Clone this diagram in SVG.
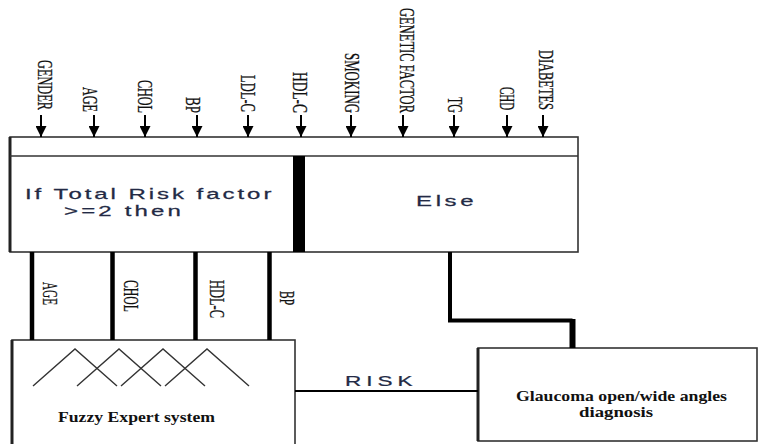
<svg xmlns="http://www.w3.org/2000/svg" width="758" height="444" viewBox="0 0 758 444">
<style>
.lbl{font-family:"Liberation Serif","Times New Roman",serif;font-size:22px;fill:#111;stroke:#111;stroke-width:0.3;}
.sans{font-family:"Liberation Sans",Arial,sans-serif;font-size:15px;fill:#232a45;stroke:#232a45;stroke-width:0.25;}
.bold{font-family:"Liberation Serif","Times New Roman",serif;font-size:15px;font-weight:bold;fill:#111;}
.box{fill:#fff;stroke:#333;stroke-width:1.6;}
.in{stroke:#000;stroke-width:2;fill:none;}
.thick{stroke:#000;fill:none;}
.mf{fill:none;stroke:#333;stroke-width:1.4;}
</style>
<defs>
<marker id="ah" markerWidth="12" markerHeight="11" refX="11" refY="5.5" orient="auto" markerUnits="userSpaceOnUse">
<path d="M0,0 L11,5.5 L0,11 Z" fill="#000"/>
</marker>
</defs>
<rect width="758" height="444" fill="#fff"/>

<g id="inputs">
<text class="lbl" transform="translate(37.5,60) rotate(90)" textLength="50" lengthAdjust="spacingAndGlyphs">GENDER</text>
<text class="lbl" transform="translate(82.5,87) rotate(90)" textLength="25" lengthAdjust="spacingAndGlyphs">AGE</text>
<text class="lbl" transform="translate(137.5,80) rotate(90)" textLength="33" lengthAdjust="spacingAndGlyphs">CHOL</text>
<text class="lbl" transform="translate(185.5,97) rotate(90)" textLength="16" lengthAdjust="spacingAndGlyphs">BP</text>
<text class="lbl" transform="translate(240.5,75) rotate(90)" textLength="37" lengthAdjust="spacingAndGlyphs">LDL-C</text>
<text class="lbl" transform="translate(292.5,72) rotate(90)" textLength="41" lengthAdjust="spacingAndGlyphs">HDL-C</text>
<text class="lbl" transform="translate(344.5,53) rotate(90)" textLength="60" lengthAdjust="spacingAndGlyphs">SMOKING</text>
<text class="lbl" transform="translate(399.5,8) rotate(90)" textLength="105" lengthAdjust="spacingAndGlyphs">GENETIC FACTOR</text>
<text class="lbl" transform="translate(447.5,97) rotate(90)" textLength="16" lengthAdjust="spacingAndGlyphs">TG</text>
<text class="lbl" transform="translate(499.5,87) rotate(90)" textLength="23" lengthAdjust="spacingAndGlyphs">CHD</text>
<text class="lbl" transform="translate(538.5,50) rotate(90)" textLength="60" lengthAdjust="spacingAndGlyphs">DIABETES</text>
</g>

<g id="rules">
<rect class="box" x="10" y="137" width="568" height="115"/>
<line x1="10" y1="137" x2="10" y2="252" stroke="#222" stroke-width="3"/>
<line x1="10" y1="156" x2="578" y2="156" stroke="#333" stroke-width="1.6"/>
<rect x="293" y="156" width="12" height="96" fill="#000"/>
<text class="sans" transform="translate(25,199) scale(1.6,1)" textLength="154" lengthAdjust="spacing">If Total Risk factor</text>
<text class="sans" transform="translate(64,216) scale(1.6,1)" textLength="73" lengthAdjust="spacing">&gt;=2 then</text>
<text class="sans" transform="translate(416,206) scale(1.6,1)" textLength="36" lengthAdjust="spacing">Else</text>
</g>

<g id="fuzzy">
<rect class="box" x="12" y="340" width="283" height="106"/>
<line x1="12" y1="340" x2="12" y2="444" stroke="#222" stroke-width="3"/>
<polyline class="mf" points="33,386 75,349 117,386"/>
<polyline class="mf" points="77,386 119,349 161,386"/>
<polyline class="mf" points="121,386 163,349 205,386"/>
<polyline class="mf" points="165,386 207,349 249,386"/>
<text class="bold" x="58" y="422" font-size="16" textLength="157" lengthAdjust="spacingAndGlyphs">Fuzzy Expert system</text>
</g>

<g id="glaucoma">
<rect class="box" x="478" y="348" width="279" height="93"/>
<line x1="478" y1="348" x2="478" y2="441" stroke="#222" stroke-width="3"/>
<text class="bold" x="516" y="401" textLength="211" lengthAdjust="spacingAndGlyphs">Glaucoma open/wide angles</text>
<text class="bold" x="579" y="417" textLength="74" lengthAdjust="spacingAndGlyphs">diagnosis</text>
</g>

<g id="connectors">
<line class="in" x1="41" y1="115" x2="41" y2="137" marker-end="url(#ah)"/>
<line class="in" x1="94" y1="115" x2="94" y2="137" marker-end="url(#ah)"/>
<line class="in" x1="145" y1="115" x2="145" y2="137" marker-end="url(#ah)"/>
<line class="in" x1="197" y1="115" x2="197" y2="137" marker-end="url(#ah)"/>
<line class="in" x1="248" y1="115" x2="248" y2="137" marker-end="url(#ah)"/>
<line class="in" x1="301" y1="115" x2="301" y2="137" marker-end="url(#ah)"/>
<line class="in" x1="351" y1="115" x2="351" y2="137" marker-end="url(#ah)"/>
<line class="in" x1="403" y1="115" x2="403" y2="137" marker-end="url(#ah)"/>
<line class="in" x1="454" y1="115" x2="454" y2="137" marker-end="url(#ah)"/>
<line class="in" x1="507" y1="115" x2="507" y2="137" marker-end="url(#ah)"/>
<line class="in" x1="543" y1="115" x2="543" y2="137" marker-end="url(#ah)"/>

<line class="thick" x1="32" y1="252" x2="32" y2="340" stroke-width="4.5"/>
<line class="thick" x1="112.5" y1="252" x2="112.5" y2="340" stroke-width="4.5"/>
<line class="thick" x1="195.5" y1="252" x2="195.5" y2="340" stroke-width="4.5"/>
<line class="thick" x1="269.5" y1="252" x2="269.5" y2="340" stroke-width="4.5"/>
<text class="lbl" transform="translate(42.5,282) rotate(90)" textLength="23" lengthAdjust="spacingAndGlyphs">AGE</text>
<text class="lbl" transform="translate(123.5,280) rotate(90)" textLength="32" lengthAdjust="spacingAndGlyphs">CHOL</text>
<text class="lbl" transform="translate(210,280) rotate(90)" textLength="38" lengthAdjust="spacingAndGlyphs">HDL-C</text>
<text class="lbl" transform="translate(280,291) rotate(90)" textLength="14" lengthAdjust="spacingAndGlyphs">BP</text>

<line x1="295" y1="391" x2="478" y2="391" stroke="#000" stroke-width="2"/>
<text class="sans" transform="translate(345,386) scale(1.5,1)" textLength="45" lengthAdjust="spacing">RISK</text>

<polyline class="thick" points="450,252 450,320.5 572.5,320.5" stroke-width="4"/>
<line class="thick" x1="572.5" y1="319" x2="572.5" y2="348" stroke-width="6"/>
</g>
</svg>
